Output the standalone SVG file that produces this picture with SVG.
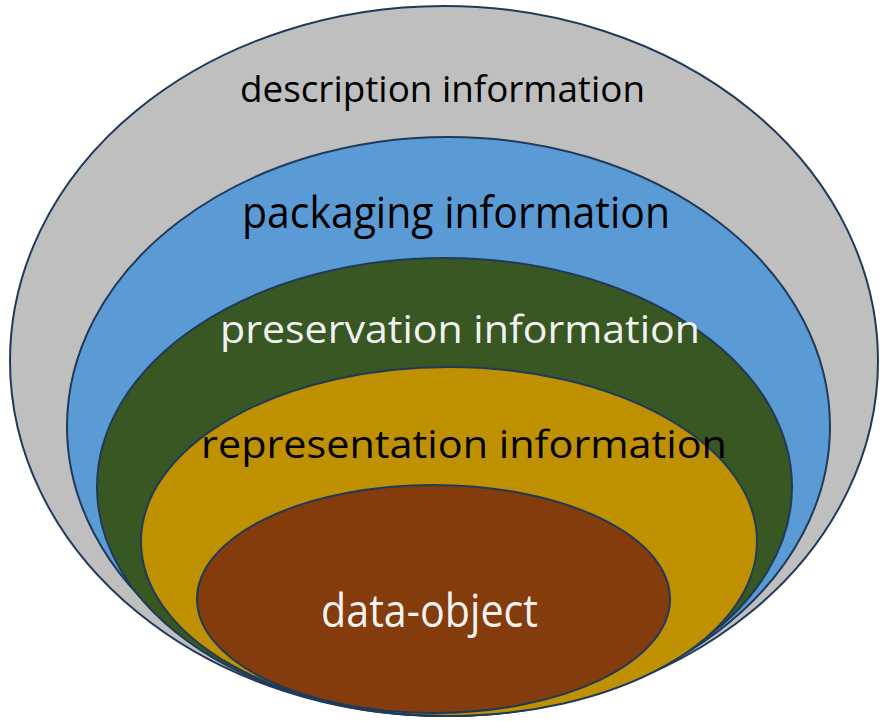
<svg xmlns="http://www.w3.org/2000/svg" width="884" height="721" viewBox="0 0 884 721">
<style>
.ring{stroke:#203a5a;stroke-width:2}
.lbl{font-family:"Open Sans","Noto Sans","Liberation Sans",sans-serif}
.dark{fill:#000000}
.light{fill:#f2f2f2}
</style>
<rect width="884" height="721" fill="#ffffff"/>
<g id="description">
<ellipse class="ring" cx="444" cy="361" rx="434" ry="355" fill="#bfbfbf"/>
<text class="lbl dark" x="240" y="102" font-size="37" textLength="405" lengthAdjust="spacingAndGlyphs">description information</text>
</g>
<g id="packaging">
<ellipse class="ring" cx="448.5" cy="426.5" rx="381.5" ry="289.5" fill="#5b9bd5"/>
<text class="lbl dark" x="242" y="228" font-size="43" textLength="428" lengthAdjust="spacingAndGlyphs">packaging information</text>
</g>
<g id="preservation">
<ellipse class="ring" cx="444.5" cy="487" rx="347.5" ry="229" fill="#385723"/>
<text class="lbl light" x="220" y="343" font-size="39" textLength="480" lengthAdjust="spacingAndGlyphs">preservation information</text>
</g>
<g id="representation">
<ellipse class="ring" cx="449" cy="541.5" rx="308" ry="174.5" fill="#bf9000"/>
<text class="lbl dark" x="201" y="458" font-size="38.5" textLength="526" lengthAdjust="spacingAndGlyphs">representation information</text>
</g>
<g id="data-object">
<ellipse class="ring" cx="433.5" cy="599" rx="236.5" ry="114" fill="#843c0c"/>
<text class="lbl light" x="321" y="627" font-size="45" textLength="217" lengthAdjust="spacingAndGlyphs">data-object</text>
</g>
<g id="connectors"></g>
</svg>
